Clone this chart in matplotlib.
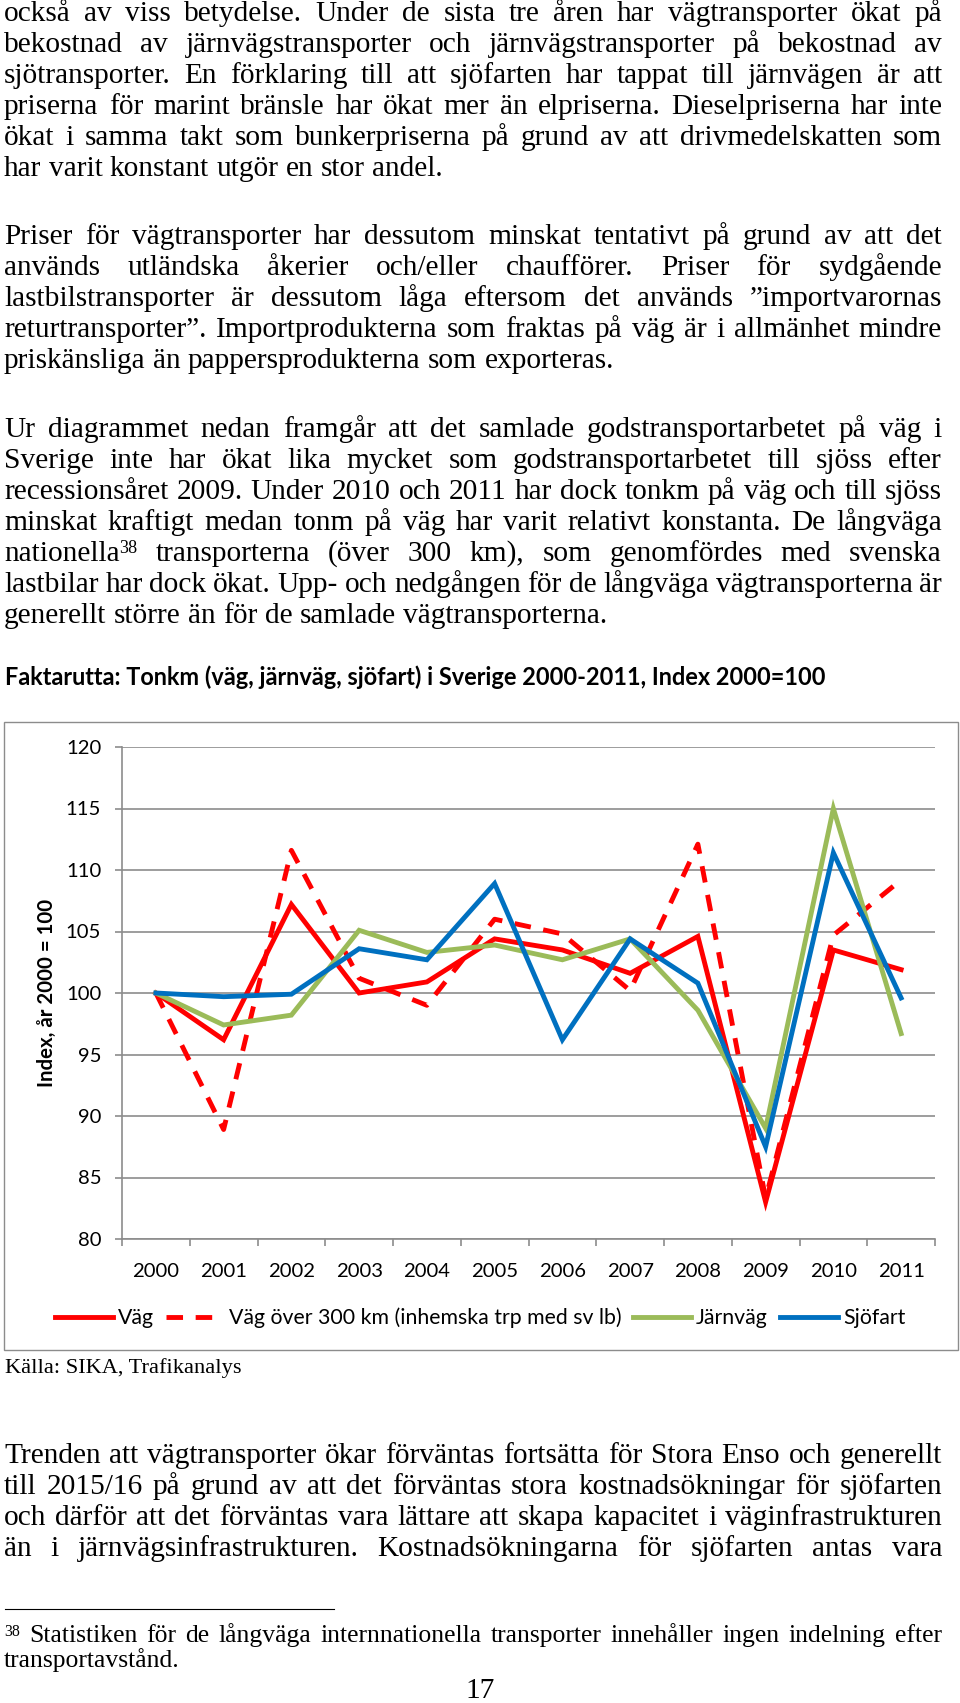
import numpy as np
import matplotlib.pyplot as plt
from matplotlib.font_manager import FontProperties
from matplotlib.patches import Rectangle
from matplotlib.lines import Line2D

W, H = 960, 1703

# data for the chart (index, year 2000 = 100)
years = ['2000', '2001', '2002', '2003', '2004', '2005',
         '2006', '2007', '2008', '2009', '2010', '2011']
vag = [100, 96.2, 107.2, 100.0, 100.9, 104.4, 103.5, 101.6, 104.6, 83.0, 103.5, 101.9]
vag300 = [100, 88.9, 111.6, 101.2, 99.0, 106.0, 104.8, 100.2, 112.1, 83.3, 104.7, 109.2]
jarnvag = [100, 97.4, 98.2, 105.1, 103.3, 103.9, 102.7, 104.4, 98.6, 89.0, 115.0, 96.7]
sjofart = [100, 99.7, 99.9, 103.6, 102.7, 108.9, 96.2, 104.4, 100.8, 87.5, 111.4, 99.6]
serie_namn = ['Väg', 'Väg över 300 km (inhemska trp med sv lb)', 'Järnväg', 'Sjöfart']
y_ticks = [80, 85, 90, 95, 100, 105, 110, 115, 120]

titel = 'Faktarutta: Tonkm (väg, järnväg, sjöfart) i Sverige 2000-2011, Index 2000=100'
y_etikett = 'Index, år 2000 = 100'
kalla = 'Källa: SIKA, Trafikanalys'

SERIF = 'Liberation Serif'
SANS = 'Lato'

fig = plt.figure(figsize=(W / 100, H / 100), dpi=100)
renderer = fig.canvas.get_renderer()


def fx(x):
    return x / W


def fy(y):
    return 1 - y / H


def bredd(s, size, family, weight='normal'):
    fp = FontProperties(family=family, size=size, weight=weight)
    w, h, d = renderer.get_text_width_height_descent(s, fp, ismath=False)
    return w


def passa(s, target, family, weight='normal'):
    return 20 * target / bredd(s, 20, family, weight)


def rad(tokens, y, size, justify=True, family=SERIF, x0=4, x1=942):
    # ett ord är en str eller en lista av (text, skala, höjning i px)
    words = [[(t, 1.0, 0)] if isinstance(t, str) else t for t in tokens]
    space = bredd('a a', size, family) - bredd('aa', size, family)
    widths = [sum(bredd(s, size * k, family) for s, k, r in w) for w in words]
    if justify and len(words) > 1:
        gap = (x1 - x0 - sum(widths)) / (len(words) - 1)
        if gap < 0.6 * space:
            # för lite plats, krymp raden
            f = (x1 - x0) / (sum(widths) + 0.6 * space * (len(words) - 1))
            size = size * f
            widths = [wd * f for wd in widths]
            gap = (x1 - x0 - sum(widths)) / (len(words) - 1)
    else:
        gap = space
    x = x0
    for w, wd in zip(words, widths):
        xx = x
        for s, k, r in w:
            fig.text(fx(xx), fy(y - r), s, fontsize=size * k, family=family,
                     ha='left', va='baseline')
            xx += bredd(s, size * k, family)
        x += wd + gap


def stycke(lines, y0, size, last_justify=False, step=31):
    for i, ln in enumerate(lines):
        tokens = ln.split() if isinstance(ln, str) else ln
        just = last_justify or i < len(lines) - 1
        rad(tokens, y0 + i * step, size, justify=just)


body = passa('har varit konstant utgör en stor andel.', 439, SERIF)

p1 = [
    'också av viss betydelse. Under de sista tre åren har vägtransporter ökat på',
    'bekostnad av järnvägstransporter och järnvägstransporter på bekostnad av',
    'sjötransporter. En förklaring till att sjöfarten har tappat till järnvägen är att',
    'priserna för marint bränsle har ökat mer än elpriserna. Dieselpriserna har inte',
    'ökat i samma takt som bunkerpriserna på grund av att drivmedelskatten som',
    'har varit konstant utgör en stor andel.',
]
p2 = [
    'Priser för vägtransporter har dessutom minskat tentativt på grund av att det',
    'används utländska åkerier och/eller chaufförer. Priser för sydgående',
    'lastbilstransporter är dessutom låga eftersom det används ”importvarornas',
    'returtransporter”. Importprodukterna som fraktas på väg är i allmänhet mindre',
    'priskänsliga än pappersprodukterna som exporteras.',
]
p3 = [
    'Ur diagrammet nedan framgår att det samlade godstransportarbetet på väg i',
    'Sverige inte har ökat lika mycket som godstransportarbetet till sjöss efter',
    'recessionsåret 2009. Under 2010 och 2011 har dock tonkm på väg och till sjöss',
    'minskat kraftigt medan tonm på väg har varit relativt konstanta. De långväga',
    [[('nationella', 1.0, 0), ('38', 0.62, 8)]] +
    'transporterna (över 300 km), som genomfördes med svenska'.split(),
    'lastbilar har dock ökat. Upp- och nedgången för de långväga vägtransporterna är',
    'generellt större än för de samlade vägtransporterna.',
]
p4 = [
    'Trenden att vägtransporter ökar förväntas fortsätta för Stora Enso och generellt',
    'till 2015/16 på grund av att det förväntas stora kostnadsökningar för sjöfarten',
    'och därför att det förväntas vara lättare att skapa kapacitet i väginfrastrukturen',
    'än i järnvägsinfrastrukturen. Kostnadsökningarna för sjöfarten antas vara',
]

stycke(p1, 21, body)
stycke(p2, 244, body)
stycke(p3, 437, body)
stycke(p4, 1463, body, last_justify=True)

# fotnot
fot = passa('transportavstånd.', 175, SERIF)
rad([[('38', 0.62, 6)]] +
    'Statistiken för de långväga internnationella transporter innehåller ingen indelning efter'.split(),
    1642, fot, justify=True)
rad(['transportavstånd.'], 1667, fot, justify=False)
fig.add_artist(Line2D([fx(5), fx(334)], [fy(1609), fy(1609)], color='black', lw=0.8))
fig.text(fx(480), fy(1698), '17', ha='center', va='baseline', fontsize=body, family=SERIF)

# rubrik och källa
fig.text(fx(5), fy(685), titel, fontsize=passa(titel, 822, SANS, 'bold'),
         family=SANS, weight='bold', ha='left', va='baseline')
fig.text(fx(5), fy(1373), kalla, fontsize=passa(kalla, 236, SERIF),
         family=SERIF, ha='left', va='baseline')

# ram runt diagrammet
fig.add_artist(Rectangle((fx(4), fy(1350)), (958 - 4) / W, (1350 - 722) / H,
                         transform=fig.transFigure, fill=False, ec='#8c8c8c', lw=1.0))

# diagram
ax = fig.add_axes([fx(122), fy(1239), (935 - 122) / W, (1239 - 747) / H])
x = np.arange(len(years))
lw = 3.5
l1, = ax.plot(x, vag, color='#FF0000', lw=lw, solid_joinstyle='miter')
l2, = ax.plot(x, vag300, color='#FF0000', lw=lw, ls=(0, (3.4, 2.6)))
l3, = ax.plot(x, jarnvag, color='#9BBB59', lw=lw, solid_joinstyle='miter')
l4, = ax.plot(x, sjofart, color='#0070C0', lw=lw, solid_joinstyle='miter')

ax.set_xlim(-0.5, 11.5)
ax.set_ylim(80, 120)
ax.set_yticks(y_ticks)
ax.yaxis.grid(True, color='#8c8c8c', lw=1.2)
ax.set_axisbelow(True)
for s in ['top', 'right']:
    ax.spines[s].set_visible(False)
for s in ['left', 'bottom']:
    ax.spines[s].set_color('#8c8c8c')
    ax.spines[s].set_linewidth(1.2)

tick_sz = passa('2000', 47, SANS)
ax.set_xticks(np.arange(-0.5, 12, 1))
ax.set_xticklabels([])
ax.set_xticks(x, minor=True)
ax.set_xticklabels(years, minor=True, family=SANS, fontsize=tick_sz)
ax.tick_params(axis='x', which='major', length=5, color='#8c8c8c', width=1.2)
ax.tick_params(axis='x', which='minor', length=0, pad=17)
ax.tick_params(axis='y', length=5, color='#8c8c8c', width=1.2, pad=10)
for t in ax.get_yticklabels():
    t.set_family(SANS)
    t.set_fontsize(tick_sz)

fig.text(fx(47), fy(993), y_etikett, rotation=90, ha='center', va='center',
         family=SANS, weight='bold', fontsize=passa(y_etikett, 188, SANS, 'bold'))

leg_sz = passa(serie_namn[1], 392, SANS)
fs_px = leg_sz * 100 / 72
ax.legend([l1, l2, l3, l4], serie_namn, ncol=4, loc='center',
          bbox_to_anchor=(fx(480), fy(1318)), bbox_transform=fig.transFigure,
          frameon=False, prop=FontProperties(family=SANS, size=leg_sz),
          handlelength=58 / fs_px, handletextpad=5 / fs_px,
          columnspacing=12 / fs_px, borderpad=0, borderaxespad=0)

fig.savefig('out.png', dpi=100)
